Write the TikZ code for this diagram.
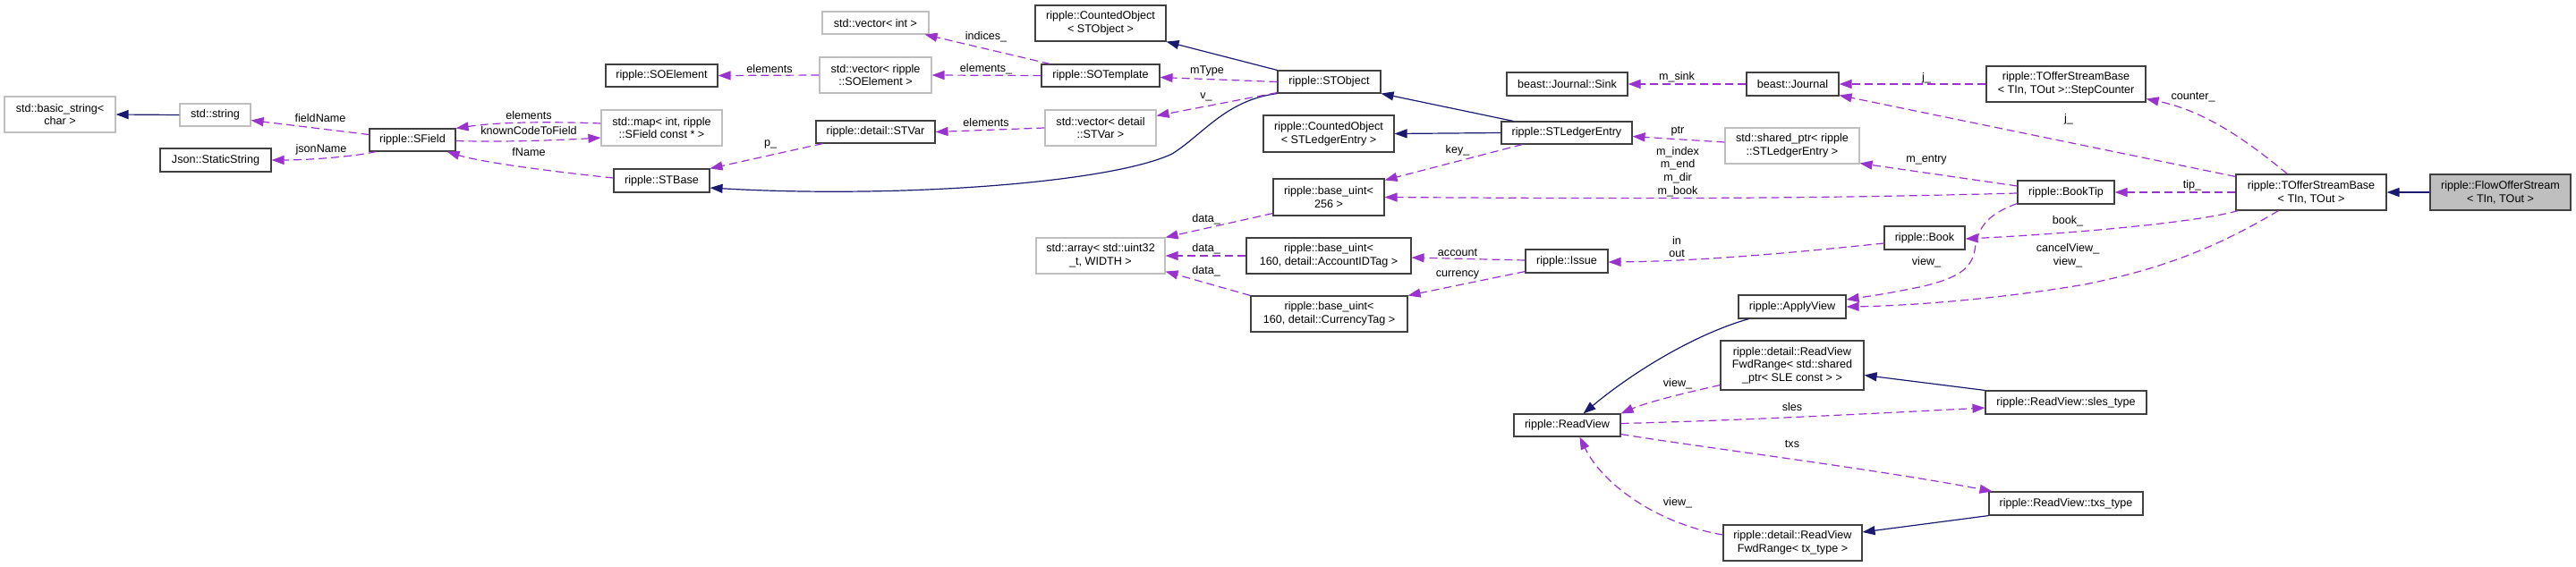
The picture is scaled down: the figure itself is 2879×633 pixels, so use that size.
\documentclass[tikz,border=0pt]{standalone}
\usepackage{fontspec}
\setmainfont{Liberation Sans}
\usetikzlibrary{arrows.meta,calc}
\definecolor{inh}{HTML}{191970}
\definecolor{usg}{HTML}{9A32CD}
\definecolor{extgray}{HTML}{BFBFBF}
\definecolor{bord}{HTML}{404040}
\newcommand\bx[7]{\node[#2, minimum width={(#5-#3)*1pt}, minimum height={(#6-#4)*1pt}] (#1) at ({(#3+#5)/2},{(#4+#6)/2}) {#7};}
\begin{document}
\begin{tikzpicture}[x=1pt,y=-1pt,
 cls/.style={draw=bord, line width=1.1pt, fill=white, inner sep=0pt, align=center, font=\fontsize{12.6}{14.7}\selectfont},
 ext/.style={cls, draw=extgray},
 cur/.style={cls, fill=extgray},
 lbl/.style={inner sep=0pt, align=center, font=\fontsize{12.6}{14.7}\selectfont},
 inhedge/.style={draw=inh, line width=1.2pt, -{Triangle[length=14pt,width=10pt]}},
 useedge/.style={draw=usg, line width=1.2pt, dash pattern=on 9pt off 5pt, -{Triangle[length=14pt,width=10pt]}}]
\useasboundingbox (0,0) rectangle (2879,633);
% nodes
\bx{bstr}{ext}{5}{108}{129}{148}{std::basic\_string<\\ char >}
\bx{str}{ext}{201}{116}{280}{141}{std::string}
\bx{json}{cls}{179}{166}{303}{192}{Json::StaticString}
\bx{sfield}{cls}{413}{144}{509}{169}{ripple::SField}
\bx{soel}{cls}{677}{72}{802}{97}{ripple::SOElement}
\bx{map}{ext}{672}{123}{807}{163}{std::map< int, ripple\\::SField const * >}
\bx{stbase}{cls}{686}{189}{793}{215}{ripple::STBase}
\bx{vint}{ext}{919}{13}{1038}{38}{std::vector< int >}
\bx{vsoel}{ext}{916}{64}{1041}{104}{std::vector< ripple\\::SOElement >}
\bx{stvar}{cls}{912}{135}{1045}{160}{ripple::detail::STVar}
\bx{cobj}{cls}{1157}{6}{1303}{46}{ripple::CountedObject\\< STObject >}
\bx{sotpl}{cls}{1164}{72}{1296}{97}{ripple::SOTemplate}
\bx{vstvar}{ext}{1168}{123}{1292}{163}{std::vector< detail\\::STVar >}
\bx{arr}{ext}{1158}{266}{1302}{306}{std::array< std::uint32\\\_t, WIDTH >}
\bx{stobj}{cls}{1428}{79}{1543}{104}{ripple::STObject}
\bx{cled}{cls}{1412}{129}{1558}{170}{ripple::CountedObject\\< STLedgerEntry >}
\bx{bu256}{cls}{1423}{200}{1547}{241}{ripple::base\_uint<\\ 256 >}
\bx{buacc}{cls}{1393}{266}{1577}{306}{ripple::base\_uint<\\ 160, detail::AccountIDTag >}
\bx{bucur}{cls}{1398}{331}{1573}{371}{ripple::base\_uint<\\ 160, detail::CurrencyTag >}
\bx{sink}{cls}{1684}{81}{1819}{107}{beast::Journal::Sink}
\bx{sle}{cls}{1678}{136}{1824}{161}{ripple::STLedgerEntry}
\bx{issue}{cls}{1705}{279}{1797}{305}{ripple::Issue}
\bx{rview}{cls}{1692}{463}{1811}{488}{ripple::ReadView}
\bx{journal}{cls}{1952}{81}{2055}{107}{beast::Journal}
\bx{sptr}{ext}{1928}{143}{2078}{183}{std::shared\_ptr< ripple\\::STLedgerEntry >}
\bx{book}{cls}{2106}{253}{2196}{279}{ripple::Book}
\bx{aview}{cls}{1943}{330}{2063}{356}{ripple::ApplyView}
\bx{fwda}{cls}{1923}{381}{2083}{436}{ripple::detail::ReadView\\FwdRange< std::shared\\\_ptr< SLE const > >}
\bx{fwdb}{cls}{1926}{587}{2081}{627}{ripple::detail::ReadView\\FwdRange< tx\_type >}
\bx{stepc}{cls}{2220}{74}{2398}{114}{ripple::TOfferStreamBase\\< TIn, TOut >::StepCounter}
\bx{booktip}{cls}{2255}{202}{2363}{228}{ripple::BookTip}
\bx{sles}{cls}{2219}{437}{2399}{463}{ripple::ReadView::sles\_type}
\bx{txs}{cls}{2223}{550}{2395}{576}{ripple::ReadView::txs\_type}
\bx{tosb}{cls}{2499}{195}{2667}{235}{ripple::TOfferStreamBase\\< TIn, TOut >}
\bx{flow}{cur}{2716}{195}{2873}{235}{ripple::FlowOfferStream\\< TIn, TOut >}
% inheritance edges
\draw[inhedge] (str.west) -- (bstr.east);
\draw[inhedge] (stobj.south west) .. controls (1370,112) and (1345,150) .. (1310,172) .. controls (1240,205) and (1000,222) .. ($(stbase.east)+(0,8)$);
\draw[inhedge] (stobj.north west) -- (cobj.south east);
\draw[inhedge] ($(sle.north west)+(14,0)$) -- (stobj.south east);
\draw[inhedge] (sle.west) -- (cled.east);
\draw[inhedge] ($(aview.south west)+(12,0)$) .. controls (1890,375) and (1820,420) .. ($(rview.north)+(18,0)$);
\draw[inhedge] (sles.north west) -- ($(fwda.east)+(0,11)$);
\draw[inhedge] (txs.south west) -- ($(fwdb.east)+(0,-12)$);
\draw[inhedge] (flow.west) -- (tosb.east);
% usage edges
\draw[useedge] ($(sfield.west)+(0,-6)$) -- ($(str.east)+(0,6)$);
\draw[useedge] ($(sfield.south west)+(8,0)$) .. controls (390,176) and (340,179) .. ($(json.east)+(0,0)$);
\draw[useedge] ($(map.west)+(0,-5)$) .. controls (620,136) and (560,136) .. (sfield.north east);
\draw[useedge] ($(sfield.east)+(0,1)$) .. controls (560,159) and (620,157) .. ($(map.west)+(0,11)$);
\draw[useedge] ($(stbase.west)+(0,-3)$) .. controls (620,192) and (540,182) .. ($(sfield.south east)+(-10,0)$);
\draw[useedge] ($(stvar.south west)+(8,0)$) -- (stbase.north east);
\draw[useedge] (vsoel.west) -- (soel.east);
\draw[useedge] ($(sotpl.north west)+(10,0)$) -- ($(vint.south east)+(-5,0)$);
\draw[useedge] (sotpl.west) -- (vsoel.east);
\draw[useedge] (stobj.west) -- ($(sotpl.east)+(0,2)$);
\draw[useedge] ($(stobj.south west)+(0,-1)$) -- ($(vstvar.north east)+(0,7)$);
\draw[useedge] (vstvar.west) -- (stvar.east);
\draw[useedge] ($(sle.south west)+(24,0)$) -- ($(bu256.north east)+(0,2)$);
\draw[useedge] ($(booktip.west)+(0,1)$) .. controls (2000,223) and (1800,222) .. (bu256.east);
\draw[useedge] ($(bu256.south west)+(0,-3)$) -- (arr.north east);
\draw[useedge] (buacc.west) -- (arr.east);
\draw[useedge] (bucur.north west) -- ($(arr.south east)+(0,-3)$);
\draw[useedge] (journal.west) -- (sink.east);
\draw[useedge] ($(sptr.west)+(0,-4)$) -- ($(sle.east)+(0,4)$);
\draw[useedge] ($(issue.west)+(0,-1)$) -- ($(buacc.east)+(0,2)$);
\draw[useedge] ($(issue.south west)+(0,-2)$) -- (bucur.north east);
\draw[useedge] ($(book.west)+(0,6)$) .. controls (2000,283) and (1900,292) .. ($(issue.east)+(0,1)$);
\draw[useedge] (stepc.west) -- (journal.east);
\draw[useedge] ($(tosb.north west)+(0,3)$) -- ($(journal.south east)+(0,-1)$);
\draw[useedge] ($(tosb.north west)+(58,0)$) .. controls (2520,165) and (2470,125) .. ($(stepc.south east)+(0,-4)$);
\draw[useedge] (tosb.west) -- (booktip.east);
\draw[useedge] ($(tosb.south west)+(3,0)$) .. controls (2450,250) and (2300,262) .. ($(book.east)+(0,1)$);
\draw[useedge] ($(tosb.south west)+(48,0)$) .. controls (2480,275) and (2420,300) .. (2330,318) .. controls (2230,335) and (2130,342) .. ($(aview.east)+(0,0)$);
\draw[useedge] ($(booktip.south west)+(0,-1)$) .. controls (2220,240) and (2210,255) .. (2207,280) .. controls (2203,300) and (2190,310) .. (2150,320) .. controls (2110,328) .. ($(aview.east)+(0,-8)$);
\draw[useedge] ($(booktip.west)+(0,-7)$) -- ($(sptr.south east)+(0,-1)$);
\draw[useedge] ($(fwda.south west)+(0,-6)$) .. controls (1880,440) and (1840,450) .. (rview.north east);
\draw[useedge] ($(rview.east)+(0,-2)$) .. controls (1950,470) and (2100,462) .. ($(sles.west)+(0,6)$);
\draw[useedge] ($(rview.east)+(0,10)$) .. controls (1900,500) and (2100,525) .. ($(txs.north west)+(4,0)$);
\draw[useedge] ($(fwdb.west)+(0,-9)$) .. controls (1850,585) and (1790,540) .. ($(rview.south)+(14,0)$);
% labels
\node[lbl] (l1) at (358,132) {fieldName};
\node[lbl] (l2) at (359,167) {jsonName};
\node[lbl] (l3) at (591,129) {elements};
\node[lbl] (l4) at (591,146) {knownCodeToField};
\node[lbl] (l5) at (591,170) {fName};
\node[lbl] (l6) at (861,161) {p\_};
\node[lbl] (l7) at (860,77) {elements};
\node[lbl] (l8) at (1102,41) {indices\_};
\node[lbl] (l9) at (1102,77) {elements\_};
\node[lbl] (l10) at (1349,79) {mType};
\node[lbl] (l11) at (1348,108) {v\_};
\node[lbl] (l12) at (1102,137) {elements};
\node[lbl] (l13) at (1629,168) {key\_};
\node[lbl] (l14) at (1348,245) {data\_};
\node[lbl] (l15) at (1348,278) {data\_};
\node[lbl] (l16) at (1348,303) {data\_};
\node[lbl] (l17) at (1629,282) {account};
\node[lbl] (l18) at (1629,307) {currency};
\node[lbl] (l19) at (1874,86) {m\_sink};
\node[lbl] (l20) at (1875,147) {ptr};
\node[lbl] (l21) at (1875,192) {m\_index\\m\_end\\m\_dir\\m\_book};
\node[lbl] (l22) at (1874,276) {in\\out};
\node[lbl] (l23) at (2153,87) {j\_};
\node[lbl] (l24) at (2312,133) {j\_};
\node[lbl] (l25) at (2153,179) {m\_entry};
\node[lbl] (l26) at (2311,247) {book\_};
\node[lbl] (l27) at (2311,286) {cancelView\_\\view\_};
\node[lbl] (l28) at (2153,293) {view\_};
\node[lbl] (l29) at (1875,429) {view\_};
\node[lbl] (l30) at (1875,562) {view\_};
\node[lbl] (l31) at (2003,455) {sles};
\node[lbl] (l32) at (2003,496) {txs};
\node[lbl] (l33) at (2451,109) {counter\_};
\node[lbl] (l34) at (2450,207) {tip\_};
\end{tikzpicture}
\end{document}
